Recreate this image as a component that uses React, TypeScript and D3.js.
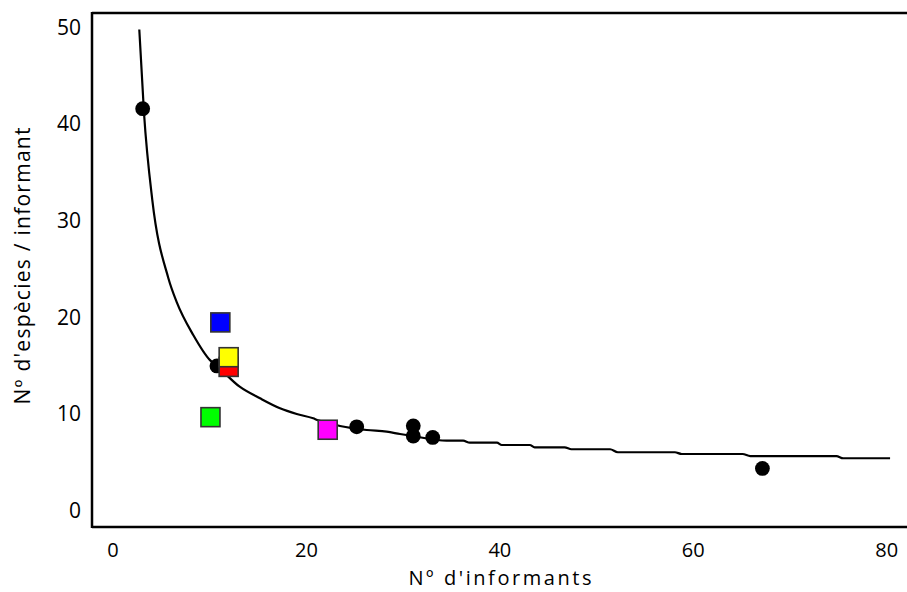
import React from "react";
import * as d3 from "d3";

// Informants per study vs. species per informant
const dotX = [3.07, 10.75, 25.2, 31.05, 31.05, 33.06, 67.15];
const dotY = [41.5, 14.9, 8.6, 8.7, 7.65, 7.5, 4.3];

// Highlighted studies (drawn in this order; yellow sits over red)
const squareX = [11.1, 11.96, 11.96, 10.08, 22.2];
const squareY = [19.4, 14.8, 15.8, 9.6, 8.3];
const squareColor = ["#0000ff", "#ff0000", "#ffff00", "#00ff00", "#ff00ff"];

// Fitted trend line, traced point by point
const trendX = [2.72, 3.21, 4.06, 5.72, 6.59, 8.3, 10.03, 10.75, 13.1, 15.2, 17.27, 19.0, 20.7, 21.13, 23.47, 26.24, 28.3, 29.68, 31.0, 34.5, 36.2, 36.9, 39.7, 40.2, 43.1, 43.6, 46.7, 47.4, 51.4, 52.2, 58.1, 58.8, 65.1, 65.9, 74.8, 75.5, 80.35];
const trendY = [49.7, 41.0, 32.1, 24.0, 21.5, 18.1, 15.5, 14.9, 12.75, 11.55, 10.52, 9.93, 9.48, 9.31, 8.69, 8.27, 8.1, 7.86, 7.65, 7.17, 7.17, 6.96, 6.96, 6.72, 6.72, 6.48, 6.48, 6.28, 6.28, 5.97, 5.97, 5.79, 5.79, 5.58, 5.58, 5.35, 5.35];

const xTicks = [0, 20, 40, 60, 80];
const yTicks = [0, 10, 20, 30, 40, 50];

const W = 907;
const H = 592;
const font = "'Open Sans', sans-serif";

export default function App() {
  const x = d3.scaleLinear().domain([-2.17, 82.1]).range([92, 907]);
  const y = d3.scaleLinear().domain([-1.76, 51.4]).range([527, 13]);

  const trend = d3
    .line<number>()
    .x((_, i) => x(trendX[i]))
    .y((_, i) => y(trendY[i]))
    .curve(d3.curveMonotoneX)(trendX);

  const sq = 19;

  return (
    <svg
      width={W}
      height={H}
      style={{ position: "absolute", left: 0, top: 0, background: "#fff" }}
      fontFamily={font}
    >
      <rect width={W} height={H} fill="#fff" />
      {/* frame: left, top, bottom */}
      <line x1={92} y1={13} x2={907} y2={13} stroke="#000" strokeWidth={2.5} />
      <line x1={92} y1={527} x2={907} y2={527} stroke="#000" strokeWidth={2.5} />
      <line x1={92} y1={12} x2={92} y2={528} stroke="#000" strokeWidth={2.5} />

      {yTicks.map((t) => (
        <text key={"y" + t} x={81} y={y(t) + 8} textAnchor="end" fontSize={21} fill="#000">
          {t}
        </text>
      ))}
      {xTicks.map((t) => (
        <text key={"x" + t} x={x(t)} y={557} textAnchor="middle" fontSize={20} fill="#000">
          {t}
        </text>
      ))}

      <text x={500} y={585} textAnchor="middle" fontSize={20} textLength={183} lengthAdjust="spacing" fill="#000">
        Nº d'informants
      </text>
      <text
        transform="translate(30,266) rotate(-90)"
        textAnchor="middle"
        fontSize={21}
        textLength={277}
        lengthAdjust="spacing"
        fill="#000"
      >
        Nº d'espècies / informant
      </text>

      <path d={trend ?? ""} fill="none" stroke="#000" strokeWidth={2.2} />

      {dotX.map((v, i) => (
        <circle key={"d" + i} cx={x(v)} cy={y(dotY[i])} r={7.4} fill="#000" />
      ))}

      {squareX.map((v, i) => (
        <rect
          key={"s" + i}
          x={x(v) - sq / 2}
          y={y(squareY[i]) - sq / 2}
          width={sq}
          height={sq}
          fill={squareColor[i]}
          stroke="#333"
          strokeWidth={1.6}
        />
      ))}
    </svg>
  );
}
